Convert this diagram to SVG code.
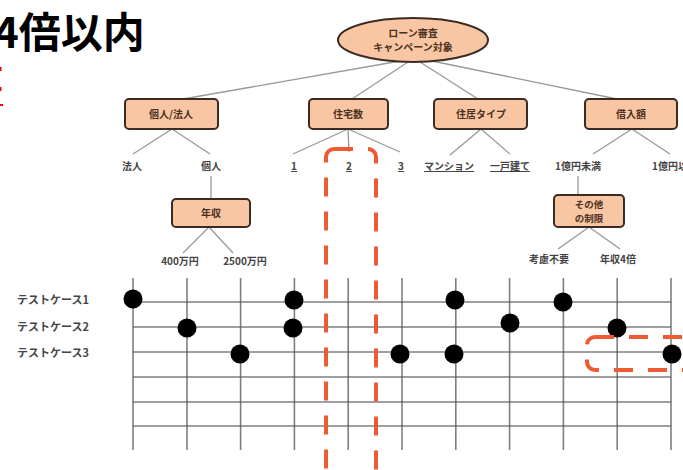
<svg xmlns="http://www.w3.org/2000/svg" width="683" height="470" viewBox="0 0 683 470">
<style>
.t{font-family:"Noto Sans CJK JP","Noto Sans",sans-serif;font-weight:bold}
.nd{fill:#f9c6a4;stroke:#3b2b22;stroke-width:2}
.nt{font-size:10px;fill:#4a3020;text-anchor:middle}
.lf{font-size:10px;fill:#444;text-anchor:middle}
.cn{stroke:#999;stroke-width:1.3;fill:none}
.gr{stroke:#555;stroke-width:1.6;opacity:0.75}
.dot{fill:#000}
.rl{font-size:11px;fill:#444}
.red{fill:none;stroke:#ee5a32;stroke-width:4;stroke-dasharray:19 15}
</style>
<rect width="683" height="470" fill="#fff"/>
<text class="t" x="-6" y="48" font-size="42" fill="#000">4倍以内</text>
<rect x="0" y="67" width="1.5" height="4" fill="#f00"/>
<rect x="0" y="87" width="1.5" height="4" fill="#f00"/>
<rect x="0" y="104" width="3" height="2" fill="#f00"/>

<g id="connectors">
<line class="cn" x1="400" y1="61" x2="183" y2="99"/>
<line class="cn" x1="408" y1="62" x2="352" y2="99"/>
<line class="cn" x1="420" y1="62" x2="478" y2="99"/>
<line class="cn" x1="432" y1="61" x2="617" y2="99"/>
<line class="cn" x1="172" y1="129" x2="133" y2="154"/>
<line class="cn" x1="172" y1="129" x2="210" y2="154"/>
<line class="cn" x1="348" y1="129" x2="293" y2="154"/>
<line class="cn" x1="348" y1="129" x2="349" y2="152"/>
<line class="cn" x1="348" y1="129" x2="400" y2="152"/>
<line class="cn" x1="481" y1="129" x2="450" y2="155"/>
<line class="cn" x1="481" y1="129" x2="510" y2="154"/>
<line class="cn" x1="632" y1="129" x2="593" y2="154"/>
<line class="cn" x1="632" y1="129" x2="670" y2="154"/>
<line class="cn" x1="211" y1="176" x2="211" y2="199"/>
<line class="cn" x1="209" y1="227" x2="183" y2="253"/>
<line class="cn" x1="209" y1="227" x2="233" y2="253"/>
<line class="cn" x1="578" y1="176" x2="578" y2="195"/>
<line class="cn" x1="589" y1="227" x2="558" y2="249"/>
<line class="cn" x1="589" y1="227" x2="620" y2="249"/>
</g>

<g id="root">
<ellipse class="nd" cx="413" cy="40" rx="75" ry="22"/>
<text class="t nt" x="413" y="37" font-size="9.5">ローン審査</text>
<text class="t nt" x="413" y="51" font-size="9.5">キャンペーン対象</text>
</g>
<g id="n-kojin-houjin"><rect class="nd" x="125" y="99" width="93" height="30" rx="4"/><text class="t nt" x="171" y="118">個人/法人</text></g>
<g id="n-jutakusu"><rect class="nd" x="309" y="99" width="79" height="30" rx="4"/><text class="t nt" x="348" y="118">住宅数</text></g>
<g id="n-jukyo"><rect class="nd" x="434" y="99" width="93" height="30" rx="4"/><text class="t nt" x="481" y="118">住居タイプ</text></g>
<g id="n-kariire"><rect class="nd" x="585" y="99" width="92" height="30" rx="4"/><text class="t nt" x="631" y="118">借入額</text></g>

<g id="l-houjin"><text class="t lf" x="132" y="170">法人</text></g>
<g id="l-kojin"><text class="t lf" x="211" y="170">個人</text></g>
<g id="l-1"><text class="t lf" x="294" y="170" text-decoration="underline">1</text></g>
<g id="l-2"><text class="t lf" x="349" y="170" text-decoration="underline">2</text></g>
<g id="l-3"><text class="t lf" x="401" y="170" text-decoration="underline">3</text></g>
<g id="l-mansion"><text class="t lf" x="449" y="170" text-decoration="underline">マンション</text></g>
<g id="l-ikkodate"><text class="t lf" x="510" y="170" text-decoration="underline">一戸建て</text></g>
<g id="l-miman"><text class="t lf" x="578" y="170">1億円未満</text></g>
<g id="l-ijou"><text class="t lf" x="652" y="170" style="text-anchor:start">1億円以上</text></g>

<g id="n-nenshu"><rect class="nd" x="172" y="199" width="78" height="28" rx="4"/><text class="t nt" x="211" y="217">年収</text></g>
<g id="l-400"><text class="t lf" x="180" y="265">400万円</text></g>
<g id="l-2500"><text class="t lf" x="245" y="265">2500万円</text></g>

<g id="n-sonota"><rect class="nd" x="554" y="195" width="70" height="32" rx="4"/><text class="t nt" x="589" y="208" style="font-size:9.5px">その他</text><text class="t nt" x="589" y="222" style="font-size:9.5px">の制限</text></g>
<g id="l-kouryo"><text class="t lf" x="549" y="263">考慮不要</text></g>
<g id="l-4bai"><text class="t lf" x="618" y="263">年収4倍</text></g>

<g id="grid">
<line class="gr" x1="133" y1="302" x2="671" y2="302"/>
<line class="gr" x1="133" y1="327" x2="671" y2="327"/>
<line class="gr" x1="133" y1="352" x2="671" y2="352"/>
<line class="gr" x1="133" y1="377" x2="671" y2="377"/>
<line class="gr" x1="133" y1="402" x2="671" y2="402"/>
<line class="gr" x1="133" y1="426" x2="671" y2="426"/>
<line class="gr" x1="133" y1="278" x2="133" y2="450"/>
<line class="gr" x1="187" y1="278" x2="187" y2="450"/>
<line class="gr" x1="240.6" y1="278" x2="240.6" y2="450"/>
<line class="gr" x1="294.4" y1="278" x2="294.4" y2="450"/>
<line class="gr" x1="348.2" y1="278" x2="348.2" y2="450"/>
<line class="gr" x1="402" y1="278" x2="402" y2="450"/>
<line class="gr" x1="455.8" y1="278" x2="455.8" y2="450"/>
<line class="gr" x1="509.6" y1="278" x2="509.6" y2="450"/>
<line class="gr" x1="563.4" y1="278" x2="563.4" y2="450"/>
<line class="gr" x1="617.2" y1="278" x2="617.2" y2="450"/>
<line class="gr" x1="671" y1="278" x2="671" y2="450"/>
</g>

<g id="rows">
<text class="t rl" x="17" y="304">テストケース1</text>
<text class="t rl" x="17" y="331">テストケース2</text>
<text class="t rl" x="17" y="357">テストケース3</text>
</g>

<g id="dots">
<circle class="dot" cx="133" cy="299" r="9.5"/>
<circle class="dot" cx="294" cy="300" r="9.5"/>
<circle class="dot" cx="455" cy="300" r="9.5"/>
<circle class="dot" cx="563" cy="302" r="9.5"/>
<circle class="dot" cx="187" cy="328" r="9.5"/>
<circle class="dot" cx="293" cy="328" r="9.5"/>
<circle class="dot" cx="510" cy="323" r="9.5"/>
<circle class="dot" cx="617" cy="328" r="9.5"/>
<circle class="dot" cx="240" cy="354" r="9.5"/>
<circle class="dot" cx="400" cy="354" r="9.5"/>
<circle class="dot" cx="454" cy="354" r="9.5"/>
<circle class="dot" cx="672" cy="354" r="9.5"/>
</g>

<g id="highlights">
<rect class="red" x="326" y="149" width="50" height="340" rx="8"/>
<rect class="red" x="587" y="337" width="150" height="33" rx="8"/>
</g>
</svg>
